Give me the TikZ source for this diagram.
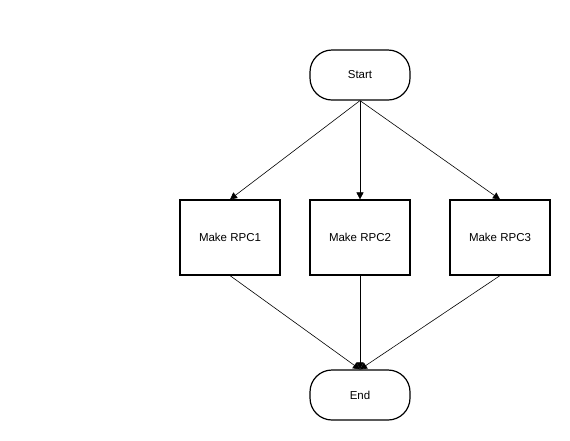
\documentclass[tikz,border=0pt]{standalone}
\usepackage{fontspec}
\setmainfont{Liberation Sans}
\usetikzlibrary{arrows.meta, positioning}

\begin{document}
\begin{tikzpicture}[
  x=1pt, y=-1pt,
  term/.style={draw, line width=1.2pt, rounded corners=22pt, minimum width=100pt, minimum height=50pt, inner sep=0pt, font=\fontsize{11.5}{14}\selectfont},
  rpcbox/.style={draw, line width=1.2pt, minimum width=100pt, minimum height=75pt, inner sep=0pt, font=\fontsize{11.5}{14}\selectfont},
  link/.style={draw, line width=0.6pt, -{Triangle[length=7pt, width=7pt]}}
]
  \useasboundingbox (0,0) rectangle (570,440);
  \node[term] (start) at (360, 75) {Start};
  \node[rpcbox] (rpc1) at (230, 237.5) {Make RPC1};
  \node[rpcbox] (rpc2) at (360, 237.5) {Make RPC2};
  \node[rpcbox] (rpc3) at (500, 237.5) {Make RPC3};
  \node[term] (end) at (360, 395) {End};
  \draw[link] (start.south) -- (rpc1.north);
  \draw[link] (start.south) -- (rpc2.north);
  \draw[link] (start.south) -- (rpc3.north);
  \draw[link] (rpc1.south) -- (end.north);
  \draw[link] (rpc2.south) -- (end.north);
  \draw[link] (rpc3.south) -- (end.north);
\end{tikzpicture}
\end{document}
